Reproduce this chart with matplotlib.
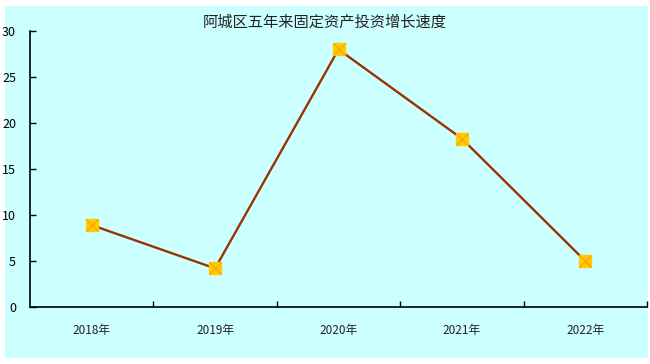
import matplotlib.pyplot as plt
from matplotlib.patches import Rectangle

plt.rcParams['font.family'] = ['Noto Sans CJK SC', 'DejaVu Sans']

# data
years = ["2018年", "2019年", "2020年", "2021年", "2022年"]
growth = [8.9, 4.2, 28.0, 18.3, 5.0]
yticks = [0, 5, 10, 15, 20, 25, 30]

W, H = 650, 364
fig = plt.figure(figsize=(W / 100, H / 100), dpi=100)
fig.patch.set_facecolor("white")
# cyan chart area
fig.patches.append(Rectangle((5 / W, 6 / H), 643 / W, 352 / H,
                             transform=fig.transFigure, facecolor="#CCFFFF",
                             edgecolor="none", zorder=-10))

ax = fig.add_axes([30 / W, (H - 307) / H, 617 / W, 276 / H])
ax.set_facecolor("none")
ax.set_zorder(5)

x = list(range(len(years)))
ax.plot(x, growth, color="#993300", lw=1.7, zorder=2)
ax.plot(x, growth, ls="none", marker="s", ms=9, mfc="#FFCC00", mec="#FFCC00", zorder=3)
ax.plot(x, growth, ls="none", marker="x", ms=8, mec="#FF9900", mew=0.8, zorder=4)

ax.set_xlim(-0.5, len(years) - 0.5)
ax.set_ylim(0, 30)
ax.set_yticks(yticks)
ax.set_xticks(x)
ax.set_xticklabels(years, fontsize=8.5, color="#222222")
ax.tick_params(axis="x", length=0, pad=12)
ax.set_xticks([i + 0.5 for i in x], minor=True)
ax.tick_params(axis="x", which="minor", direction="in", length=4, width=1)
ax.tick_params(axis="y", direction="in", length=4, width=1, labelsize=9, pad=10)

ax.spines["top"].set_visible(False)
ax.spines["right"].set_visible(False)
ax.spines["left"].set_linewidth(1.2)
ax.spines["bottom"].set_linewidth(1.2)

fig.text(325 / W, 1 - 22 / H, "阿城区五年来固定资产投资增长速度", ha="center", va="center",
         fontsize=11, fontweight="medium", color="#222222")

fig.savefig("out.png", dpi=100)
